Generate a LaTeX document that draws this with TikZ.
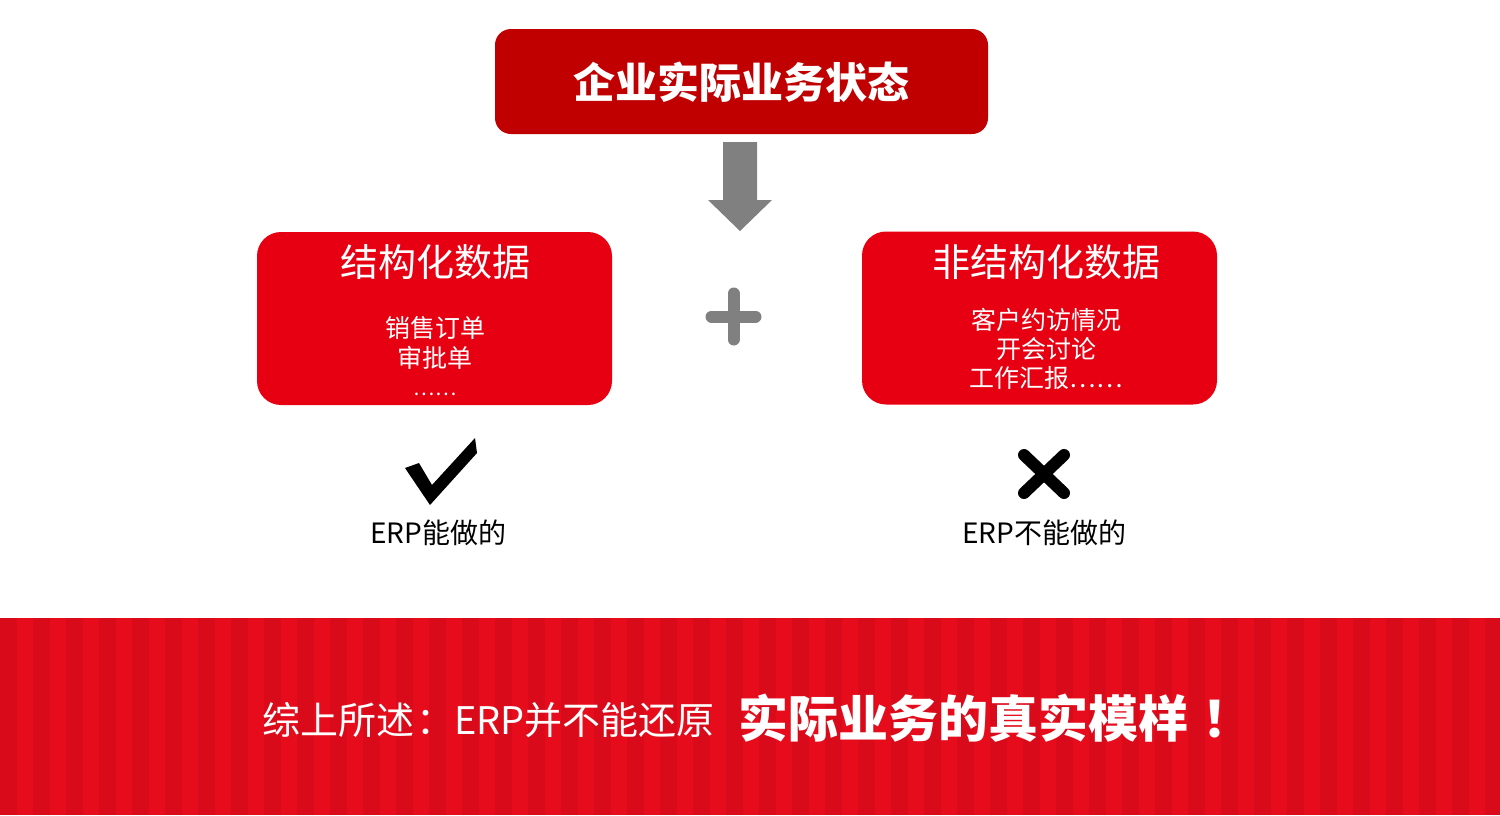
\documentclass[tikz,border=0pt]{standalone}
\usepackage{fontspec}
\setmainfont{Noto Sans CJK SC}
\definecolor{topred}{HTML}{C00000}
\definecolor{boxred}{HTML}{E60012}
\definecolor{stripelight}{HTML}{E60C1C}
\definecolor{stripedark}{HTML}{D90A19}
\definecolor{arrowgray}{HTML}{808080}
\newcommand{\fsz}[1]{\fontsize{#1pt}{1.2\dimexpr#1pt\relax}\selectfont}
\begin{document}
\begin{tikzpicture}[x=0.5pt,y=-0.5pt,
  redbox/.style={fill=boxred, rounded corners=12pt, minimum width=177.5pt, minimum height=86.5pt, inner sep=0pt},
  topbox/.style={fill=topred, rounded corners=8pt, minimum width=246.5pt, minimum height=52.5pt, inner sep=0pt},
  wtxt/.style={text=white, inner sep=0pt, align=center},
  btxt/.style={text=black, inner sep=0pt, align=center}]
\useasboundingbox (0,0) rectangle (1500,815);
\fill[white] (0,0) rectangle (1500,815);
% bottom band
\fill[stripelight] (0,618) rectangle (1500,815);
\foreach \i in {0,...,46} \fill[stripedark] (\i*33,618) rectangle ++(16.5,197);
% top box
\node[topbox] (top) at (741.5,81.5) {};
\node[wtxt, font=\fsz{21}\bfseries] (toptxt) at (741.5,82) {企业实际业务状态};
% arrow
\coordinate (arr) at (740,142);
\fill[arrowgray] (arr) ++(-17,0) -- ++(34,0) -- ++(0,58) -- ++(15,0) -- (740,231) -- (708,200) -- (723,200) -- cycle;
% left box
\node[redbox] (lbox) at (434.5,318.5) {};
\node[wtxt, font=\fsz{19}] (ltitle) at (435,262) {结构化数据};
\node[wtxt, font=\fsz{12.5}] (litems) at (435,343) {销售订单\\审批单};
\node[wtxt, font=\fsz{10}] (ldots) at (435,394) {……};
% right box
\node[redbox] (rbox) at (1039.5,318) {};
\node[wtxt, font=\fsz{19}] (rtitle) at (1046,262) {非结构化数据};
\node[wtxt, font=\fsz{12.5}] (ritems) at (1046,349) {客户约访情况\\[-0.3pt]开会讨论\\[-0.3pt]工作汇报……};
% plus
\coordinate (plus) at (733.5,316.5);
\draw[arrowgray, line width=6pt, line cap=round] (plus) ++(-22,0) -- ++(44,0);
\draw[arrowgray, line width=6pt, line cap=round] (plus) ++(0,-23) -- ++(0,46);
% check
\coordinate (chk) at (440,470);
\fill[black] (405,468) -- (419,463) -- (432,485) -- (475,438) -- (477,453) -- (430,505) -- cycle;
\node[btxt, font=\fsz{14}] (lcan) at (438,533) {ERP能做的};
% cross
\coordinate (crs) at (1044,474);
\draw[black, line width=6pt, line cap=round] (1024,455) -- (1064,493);
\draw[black, line width=6pt, line cap=round] (1064,455) -- (1024,493);
\node[btxt, font=\fsz{14}] (rcan) at (1044,533) {ERP不能做的};
% bottom text
\node[wtxt, font=\fsz{19}, anchor=west] (sum1) at (262,720) {综上所述\hspace{1pt}：ERP并不能还原};
\node[wtxt, font=\fsz{25}\bfseries, anchor=west] (sum2) at (738,718) {实际业务的真实模样\hspace{7pt}！};
\end{tikzpicture}
\end{document}
